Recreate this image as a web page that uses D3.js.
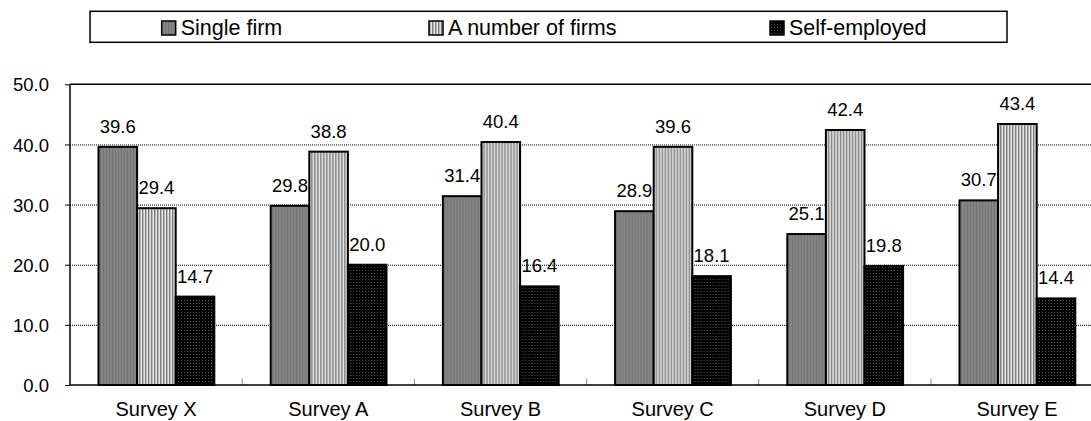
<!DOCTYPE html>
<html>
<head>
<meta charset="utf-8">
<script src="https://cdn.jsdelivr.net/npm/d3@7"></script>
<style>
  body { margin: 0; background: #fff; }
  text { font-family: "Liberation Sans", Arial, sans-serif; fill: #000; }
</style>
</head>
<body>
<svg></svg>
<script>
// chart data
const categories = ["Survey X", "Survey A", "Survey B", "Survey C", "Survey D", "Survey E"]
const seriesNames = ["Single firm", "A number of firms", "Self-employed"]
const singleFirm = [39.6, 29.8, 31.4, 28.9, 25.1, 30.7]
const numberOfFirms = [29.4, 38.8, 40.4, 39.6, 42.4, 43.4]
const selfEmployed = [14.7, 20.0, 16.4, 18.1, 19.8, 14.4]
const yTicks = [0, 10, 20, 30, 40, 50]

let width = 1091
let height = 421
let plotLeft = 70, plotTop = 84.3, plotBottom = 385, bandW = 172.2

const svg = d3.select('svg').attr('width', width).attr('height', height)

// patterns for bar fills
const defs = svg.append('defs')
const p1 = defs.append('pattern').attr('id', 'pat0').attr('patternUnits', 'userSpaceOnUse').attr('width', 3).attr('height', 3)
p1.append('rect').attr('width', 3).attr('height', 3).attr('fill', '#858585')
p1.append('rect').attr('width', 1).attr('height', 3).attr('fill', '#747474')
const p2 = defs.append('pattern').attr('id', 'pat1').attr('patternUnits', 'userSpaceOnUse').attr('width', 3).attr('height', 3)
p2.append('rect').attr('width', 3).attr('height', 3).attr('fill', '#e6e6e6')
p2.append('rect').attr('width', 1.4).attr('height', 3).attr('fill', '#7c7c7c')
const p3 = defs.append('pattern').attr('id', 'pat2').attr('patternUnits', 'userSpaceOnUse').attr('width', 3).attr('height', 3)
p3.append('rect').attr('width', 3).attr('height', 3).attr('fill', '#000')
p3.append('rect').attr('width', 1).attr('height', 1).attr('fill', '#5a5a5a')

// scales
const xScale = d3.scaleBand().domain(categories).range([plotLeft, plotLeft + bandW * categories.length]).padding(0)
const xInner = d3.scaleBand().domain(seriesNames).range([28.5, 144.3]).padding(0)
const yScale = d3.scaleLinear().domain([0, 50]).range([plotBottom, plotTop])

const data = categories.map((c, i) => ({
    cat: c,
    vals: [singleFirm[i], numberOfFirms[i], selfEmployed[i]]
}))

// gridlines (dotted)
const grid = svg.append('g').attr('transform', 'translate(' + plotLeft + ',0)')
    .call(d3.axisLeft(yScale).tickValues([10, 20, 30, 40]).tickSize(-(width - plotLeft)).tickFormat(''))
grid.select('.domain').remove()
grid.selectAll('line').attr('stroke', '#000').attr('stroke-width', 1).attr('stroke-dasharray', '1,1')

// top frame line
svg.append('line').attr('x1', plotLeft).attr('x2', width).attr('y1', yScale(50)).attr('y2', yScale(50))
    .attr('stroke', '#000').attr('stroke-width', 1.5)

// x tick marks at category boundaries
svg.selectAll('.xtick').data(categories.slice(1)).enter().append('line')
    .attr('class', 'xtick')
    .attr('x1', (d) => xScale(d)).attr('x2', (d) => xScale(d))
    .attr('y1', plotBottom).attr('y2', plotBottom - 6)
    .attr('stroke', '#888').attr('stroke-width', 1)

// bars
const groups = svg.selectAll('.grp').data(data).enter().append('g')
    .attr('class', 'grp')
    .attr('transform', (d) => 'translate(' + xScale(d.cat) + ',0)')

groups.selectAll('rect').data((d) => d.vals.map((v, j) => ({ v: v, s: seriesNames[j], j: j }))).enter().append('rect')
    .attr('x', (d) => xInner(d.s))
    .attr('y', (d) => yScale(d.v))
    .attr('width', xInner.bandwidth())
    .attr('height', (d) => plotBottom - yScale(d.v))
    .attr('fill', (d) => 'url(#pat' + d.j + ')')
    .attr('stroke', '#000').attr('stroke-width', 2)

groups.selectAll('.val').data((d) => d.vals.map((v, j) => ({ v: v, s: seriesNames[j] }))).enter().append('text')
    .attr('class', 'val')
    .attr('x', (d) => xInner(d.s) + xInner.bandwidth() / 2)
    .attr('y', (d) => yScale(d.v) - 14)
    .attr('text-anchor', 'middle')
    .style('font-size', '18.5px')
    .text((d) => d3.format('.1f')(d.v))

// y axis
const yAxis = svg.append('g').attr('transform', 'translate(' + plotLeft + ',0)')
    .call(d3.axisLeft(yScale).tickValues(yTicks).tickSize(5).tickPadding(16).tickFormat(d3.format('.1f')))
yAxis.select('.domain').attr('stroke', '#000').attr('stroke-width', 1.5).attr('d', 'M0,' + plotTop + 'V' + plotBottom)
yAxis.selectAll('line').attr('stroke', '#000')
yAxis.selectAll('text').style('font-size', '18.5px').style('font-family', '"Liberation Sans", Arial, sans-serif').attr('dy', '0.36em')

// bottom axis line
svg.append('line').attr('x1', plotLeft).attr('x2', width).attr('y1', plotBottom).attr('y2', plotBottom)
    .attr('stroke', '#000').attr('stroke-width', 1.5)

// category labels
svg.selectAll('.cat').data(categories).enter().append('text')
    .attr('class', 'cat')
    .attr('x', (d) => xScale(d) + bandW / 2)
    .attr('y', 416)
    .attr('text-anchor', 'middle')
    .style('font-size', '20px')
    .text((d) => d)

// legend
const legendX = [180.7, 448, 789]
svg.append('rect').attr('x', 90).attr('y', 11.3).attr('width', 917).attr('height', 31)
    .attr('fill', '#fff').attr('stroke', '#000').attr('stroke-width', 1.5)
const leg = svg.selectAll('.leg').data(seriesNames).enter().append('g').attr('class', 'leg')
leg.append('rect')
    .attr('x', (d, i) => legendX[i] - 19).attr('y', 21).attr('width', 14).attr('height', 14)
    .attr('fill', (d, i) => 'url(#pat' + i + ')').attr('stroke', '#000').attr('stroke-width', 1.5)
leg.append('text')
    .attr('x', (d, i) => legendX[i]).attr('y', 35)
    .style('font-size', '21.5px')
    .text((d) => d)
</script>
</body>
</html>
